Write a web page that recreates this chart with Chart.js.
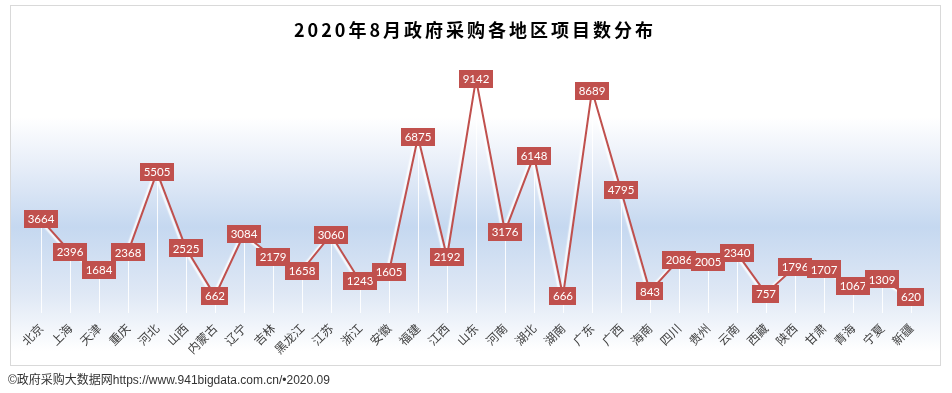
<!DOCTYPE html>
<html>
<head>
<meta charset="utf-8">
<script src="https://cdn.jsdelivr.net/npm/chart.js@4.4.1/dist/chart.umd.min.js"></script>
<style>
html,body{margin:0;padding:0;background:#fff;}
#wrap{width:952px;height:393px;position:relative;}
canvas{display:block;}
</style>
</head>
<body>
<div id="wrap"><canvas id="c" width="952" height="393"></canvas></div>
<script>
// ---- data ----
const regions = ['北京','上海','天津','重庆','河北','山西','内蒙古','辽宁','吉林','黑龙江','江苏','浙江','安徽','福建','江西','山东','河南','湖北','湖南','广东','广西','海南','四川','贵州','云南','西藏','陕西','甘肃','青海','宁夏','新疆'];
const projectCounts = [3664,2396,1684,2368,5505,2525,662,3084,2179,1658,3060,1243,1605,6875,2192,9142,3176,6148,666,8689,4795,843,2086,2005,2340,757,1796,1707,1067,1309,620];
const valueRange = [0, 10000];
const titleText = '2020年8月政府采购各地区项目数分布';
const footerText = '©政府采购大数据网https://www.941bigdata.com.cn/•2020.09';

// ---- styles ----
const RED = '#c0504d';

const framePlugin = {
  id: 'framePlugin',
  beforeDraw(chart) {
    const ctx = chart.ctx;
    ctx.save();
    ctx.fillStyle = '#ffffff';
    ctx.fillRect(0, 0, chart.width, chart.height);
    const top = 5, bottom = 366;
    const g = ctx.createLinearGradient(0, top, 0, bottom);
    g.addColorStop(0, '#ffffff');
    g.addColorStop(0.31, '#ffffff');
    g.addColorStop(0.45, '#e6edf8');
    g.addColorStop(0.615, '#c5d8f0');
    g.addColorStop(0.80, '#dfe8f5');
    g.addColorStop(0.96, '#ffffff');
    g.addColorStop(1, '#ffffff');
    ctx.fillStyle = g;
    ctx.fillRect(10, 5, 931, 361);
    ctx.strokeStyle = '#d9d9d9';
    ctx.lineWidth = 1;
    ctx.strokeRect(10.5, 5.5, 930, 360);
    ctx.restore();
  }
};

const dropLinePlugin = {
  id: 'dropLinePlugin',
  beforeDatasetsDraw(chart) {
    const ctx = chart.ctx;
    const meta = chart.getDatasetMeta(0);
    const yScale = chart.scales.y;
    const base = yScale.getPixelForValue(0);
    ctx.save();
    ctx.strokeStyle = 'rgba(255,255,255,0.9)';
    ctx.lineWidth = 1;
    meta.data.forEach(pt => {
      const x = Math.round(pt.x) + 0.5;
      ctx.beginPath();
      ctx.moveTo(x, pt.y);
      ctx.lineTo(x, base);
      ctx.stroke();
    });
    ctx.restore();
  }
};

const shadowPlugin = {
  id: 'shadowPlugin',
  beforeDatasetDraw(chart) {
    const ctx = chart.ctx;
    ctx.save();
    ctx.shadowColor = 'rgba(255,255,255,1)';
    ctx.shadowOffsetX = -2.5;
    ctx.shadowOffsetY = 0.5;
    ctx.shadowBlur = 1.5;
  },
  afterDatasetDraw(chart) {
    chart.ctx.restore();
  }
};

const labelPlugin = {
  id: 'labelPlugin',
  afterDatasetsDraw(chart) {
    const ctx = chart.ctx;
    const meta = chart.getDatasetMeta(0);
    const ds = chart.data.datasets[0];
    ctx.save();
    ctx.font = '11.5px Lato, "Open Sans", sans-serif';
    ctx.textAlign = 'center';
    ctx.textBaseline = 'middle';
    meta.data.forEach((pt, i) => {
      const txt = String(ds.data[i]);
      const w = ctx.measureText(txt).width + 7;
      const h = 18;
      ctx.fillStyle = RED;
      ctx.fillRect(Math.round(pt.x - w / 2), Math.round(pt.y - h / 2), Math.round(w), h);
      ctx.fillStyle = '#ffffff';
      ctx.fillText(txt, pt.x, pt.y + 0.5);
    });
    ctx.restore();
  }
};

const titleSpacingPlugin = {
  id: 'titleSpacingPlugin',
  afterLayout(chart) {
    const tb = chart.titleBlock;
    if (tb && !tb._lsPatched) {
      const orig = tb.draw;
      tb.draw = function () {
        const ctx = this.ctx;
        ctx.save();
        ctx.letterSpacing = '3px';
        orig.call(this);
        ctx.restore();
      };
      tb._lsPatched = true;
    }
  }
};

new Chart(document.getElementById('c'), {
  type: 'line',
  data: {
    labels: regions,
    datasets: [{
      label: '项目数',
      data: projectCounts,
      borderColor: RED,
      borderWidth: 2,
      pointRadius: 0,
      pointHoverRadius: 0,
      tension: 0,
      fill: false
    }]
  },
  options: {
    responsive: false,
    animation: false,
    devicePixelRatio: 1,
    events: [],
    layout: { padding: { left: 8, right: 10, top: 0, bottom: 0 } },
    plugins: {
      legend: { display: false },
      tooltip: { enabled: false },
      title: {
        display: true,
        text: titleText,
        color: '#000000',
        font: { family: '"Noto Sans CJK SC", sans-serif', size: 18, weight: 'bold', lineHeight: 1.2 },
        padding: { top: 19, bottom: 16.4 }
      },
      subtitle: {
        display: true,
        text: footerText,
        position: 'bottom',
        align: 'start',
        color: '#333333',
        font: { family: '"Liberation Sans", "Noto Sans CJK SC", sans-serif', size: 12, weight: 'normal', lineHeight: 1.2 },
        padding: { top: 15.6, bottom: 5 }
      }
    },
    scales: {
      x: {
        offset: true,
        grid: { display: false, drawTicks: false },
        border: { display: false },
        ticks: {
          autoSkip: false,
          maxRotation: 45,
          minRotation: 45,
          padding: 8,
          color: '#404040',
          font: { family: '"Noto Sans CJK SC", sans-serif', size: 12 }
        },
        afterFit(s) { s.height = 45; }
      },
      y: {
        position: 'left',
        min: valueRange[0],
        max: valueRange[1],
        grid: { display: false, drawTicks: false },
        border: { display: false },
        ticks: { display: false },
        afterFit(s) { s.width = 18.5; }
      },
      y2: {
        position: 'right',
        min: valueRange[0],
        max: valueRange[1],
        grid: { display: false, drawTicks: false },
        border: { display: false },
        ticks: { display: false },
        afterFit(s) { s.width = 16.5; }
      }
    }
  },
  plugins: [framePlugin, dropLinePlugin, shadowPlugin, labelPlugin, titleSpacingPlugin]
});
</script>
</body>
</html>
